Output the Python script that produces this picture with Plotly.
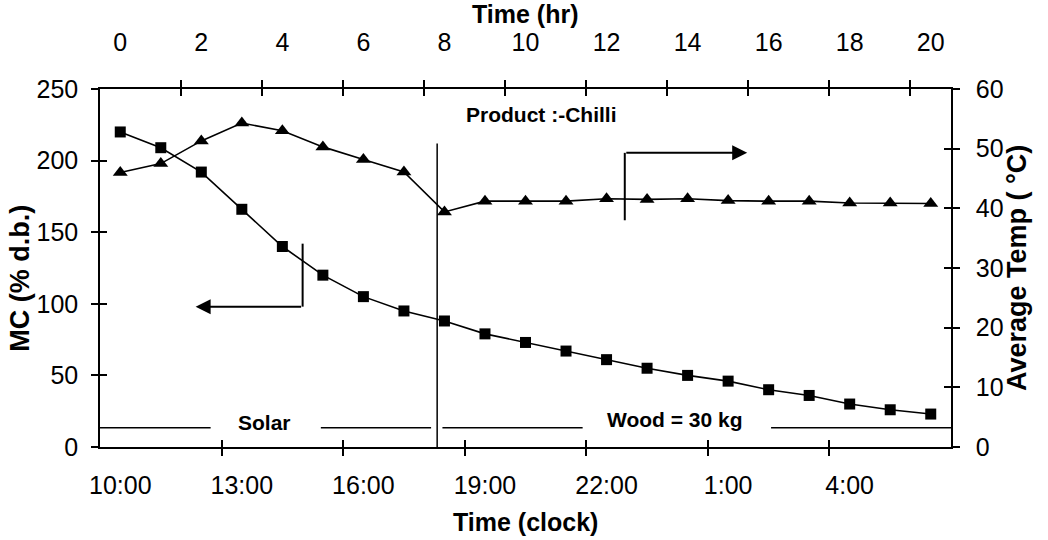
import plotly.graph_objects as go

# ---------------- data ----------------
HOURS = list(range(21))
CLOCK_LABELS = ["10:00", "11:00", "12:00", "13:00", "14:00", "15:00", "16:00",
                "17:00", "18:00", "19:00", "20:00", "21:00", "22:00", "23:00",
                "0:00", "1:00", "2:00", "3:00", "4:00", "5:00", "6:00"]
MC = [220, 209, 192, 166, 140, 120, 105, 95, 88, 79, 73, 67, 61, 55, 50,
      46, 40, 36, 30, 26, 23]
TEMP = [46.0, 47.5, 51.3, 54.3, 53.0, 50.3, 48.2, 46.1, 39.4, 41.2, 41.2,
        41.2, 41.6, 41.5, 41.6, 41.3, 41.2, 41.2, 40.9, 40.9, 40.8]
HR_TICKS = list(range(0, 21, 2))
CLOCK_TICKS = list(range(0, 19, 3))
MC_TICKS = list(range(0, 251, 50))
TEMP_TICKS = list(range(0, 61, 10))

# annotation geometry (data units)
DIVIDER_HR, DIVIDER_TOP = 7.82, 212
BAND_MC = 13.5
SOLAR_SEGS = [(-0.5, 2.23), (4.95, 7.67)]
WOOD_SEGS = [(7.95, 11.41), (16.06, 20.5)]
LEFT_ARROW = dict(x_stem=4.5, y_top=142, y_bot=98, x_tip=1.86)
RIGHT_ARROW = dict(x_stem=12.45, y_bot=38.0, y_top=49.3, x_tip=15.47)

FONT = "Liberation Sans, Arial, sans-serif"
BLACK = "#000000"
XR = [-0.5, 20.5]
TL = 7  # tick half-length (ticks cross the axis)

fig = go.Figure()
fig.add_trace(go.Scatter(x=HOURS, y=MC, mode="lines+markers", xaxis="x", yaxis="y",
                         line=dict(color=BLACK, width=1.6),
                         marker=dict(symbol="square", size=11, color=BLACK),
                         showlegend=False, name="MC"))
fig.add_trace(go.Scatter(x=HOURS, y=TEMP, mode="lines+markers", xaxis="x2", yaxis="y2",
                         line=dict(color=BLACK, width=1.6),
                         marker=dict(symbol="triangle-up", size=13, color=BLACK),
                         showlegend=False, name="Temp"))
# dummy traces so that the tick-only overlay axes are drawn
for xa, ya in [("x3", "y"), ("x4", "y"), ("x5", "y"), ("x6", "y"), ("x", "y3"), ("x", "y4")]:
    fig.add_trace(go.Scatter(x=[None], y=[None], xaxis=xa, yaxis=ya,
                             showlegend=False, hoverinfo="skip"))

half = [h - 0.5 for h in HOURS]
bottom_marks = [v for v in half if (v + 0.5) % 3 == 0 and v > -0.5]
top_marks = [v for v in half if (v + 0.5) % 2 == 0 and v > -0.5]

tickfont = dict(family=FONT, size=25, color=BLACK)
common = dict(showgrid=False, zeroline=False, showline=True, linecolor=BLACK,
              linewidth=1.5, tickcolor=BLACK, tickwidth=1.5, tickfont=tickfont)

fig.update_layout(
    width=1048, height=540,
    margin=dict(l=100, r=97, t=89, b=93),
    paper_bgcolor="white", plot_bgcolor="white",
    font=dict(family=FONT, color=BLACK),
    # label axes
    xaxis=dict(range=XR, tickmode="array", tickvals=CLOCK_TICKS,
               ticktext=[CLOCK_LABELS[i] for i in CLOCK_TICKS], ticks="",
               ticklabelstandoff=15, anchor="y", side="bottom", **common),
    xaxis2=dict(range=XR, tickmode="array", tickvals=HR_TICKS, ticks="",
                ticklabelstandoff=26, overlaying="x", anchor="y", side="top", **common),
    # tick-mark axes (outside + inside = crossing ticks)
    xaxis3=dict(range=XR, tickmode="array", tickvals=bottom_marks, ticks="outside",
                ticklen=TL, showticklabels=False, overlaying="x", anchor="y",
                side="bottom", **common),
    xaxis4=dict(range=XR, tickmode="array", tickvals=bottom_marks, ticks="inside",
                ticklen=TL, showticklabels=False, overlaying="x", anchor="y",
                side="bottom", **common),
    xaxis5=dict(range=XR, tickmode="array", tickvals=top_marks, ticks="outside",
                ticklen=TL, showticklabels=False, overlaying="x", anchor="y",
                side="top", **common),
    xaxis6=dict(range=XR, tickmode="array", tickvals=top_marks, ticks="inside",
                ticklen=TL, showticklabels=False, overlaying="x", anchor="y",
                side="top", **common),
    yaxis=dict(range=[0, 250], tickmode="array", tickvals=MC_TICKS, ticks="outside",
               ticklen=TL, ticklabelstandoff=8, anchor="x", side="left", **common),
    yaxis2=dict(range=[0, 60], tickmode="array", tickvals=TEMP_TICKS, ticks="outside",
                ticklen=TL, ticklabelstandoff=11, overlaying="y", anchor="x",
                side="right", **common),
    yaxis3=dict(range=[0, 250], tickmode="array", tickvals=MC_TICKS, ticks="inside",
                ticklen=TL, showticklabels=False, overlaying="y", anchor="x",
                side="left", **common),
    yaxis4=dict(range=[0, 60], tickmode="array", tickvals=TEMP_TICKS, ticks="inside",
                ticklen=TL, showticklabels=False, overlaying="y", anchor="x",
                side="right", **common),
)

title_font = dict(family=FONT, size=25, color=BLACK, weight="bold")
vtitle_font = dict(family=FONT, size=27, color=BLACK, weight="bold")
ann_font = dict(family=FONT, size=21, color=BLACK, weight="bold")
annotations = [
    dict(text="Time (hr)", xref="paper", yref="paper", x=0.5, y=1, yshift=75,
         showarrow=False, font=title_font, xanchor="center", yanchor="middle"),
    dict(text="Time (clock)", xref="paper", yref="paper", x=0.5, y=0, yshift=-75,
         showarrow=False, font=title_font, xanchor="center", yanchor="middle"),
    dict(text="MC (% d.b.)", xref="paper", yref="paper", x=0, xshift=-80, y=0.47,
         textangle=-90, showarrow=False, font=vtitle_font, xanchor="center", yanchor="middle"),
    dict(text="Average Temp ( °C)", xref="paper", yref="paper", x=1, xshift=66, y=0.5,
         textangle=-90, showarrow=False, font=vtitle_font, xanchor="center", yanchor="middle"),
    dict(text="Product :-Chilli", xref="x", yref="y", x=10.4, y=232,
         showarrow=False, font=ann_font, xanchor="center", yanchor="middle"),
    dict(text="Solar", xref="x", yref="y", x=3.55, y=17,
         showarrow=False, font=ann_font, xanchor="center", yanchor="middle"),
    dict(text="Wood = 30 kg", xref="x", yref="y", x=13.7, y=19.5,
         showarrow=False, font=ann_font, xanchor="center", yanchor="middle"),
    # arrow heads
    dict(text="", xref="x", yref="y", axref="x", ayref="y",
         x=LEFT_ARROW["x_tip"], y=LEFT_ARROW["y_bot"],
         ax=LEFT_ARROW["x_stem"], ay=LEFT_ARROW["y_bot"],
         showarrow=True, arrowhead=2, arrowsize=1.5, arrowwidth=2, arrowcolor=BLACK),
    dict(text="", xref="x", yref="y2", axref="x", ayref="y2",
         x=RIGHT_ARROW["x_tip"], y=RIGHT_ARROW["y_top"],
         ax=RIGHT_ARROW["x_stem"], ay=RIGHT_ARROW["y_top"],
         showarrow=True, arrowhead=2, arrowsize=1.5, arrowwidth=2, arrowcolor=BLACK),
]
fig.update_layout(annotations=annotations)

line_style = dict(color=BLACK, width=1.5)
shapes = [
    dict(type="line", xref="x", yref="y", x0=DIVIDER_HR, x1=DIVIDER_HR,
         y0=0, y1=DIVIDER_TOP, line=line_style),
    dict(type="line", xref="x", yref="y", x0=LEFT_ARROW["x_stem"], x1=LEFT_ARROW["x_stem"],
         y0=LEFT_ARROW["y_bot"], y1=LEFT_ARROW["y_top"], line=dict(color=BLACK, width=2)),
    dict(type="line", xref="x", yref="y2", x0=RIGHT_ARROW["x_stem"], x1=RIGHT_ARROW["x_stem"],
         y0=RIGHT_ARROW["y_bot"], y1=RIGHT_ARROW["y_top"], line=dict(color=BLACK, width=2)),
]
for x0, x1 in SOLAR_SEGS + WOOD_SEGS:
    shapes.append(dict(type="line", xref="x", yref="y", x0=x0, x1=x1,
                       y0=BAND_MC, y1=BAND_MC, line=line_style))
fig.update_layout(shapes=shapes)

fig.write_html("out.html")
